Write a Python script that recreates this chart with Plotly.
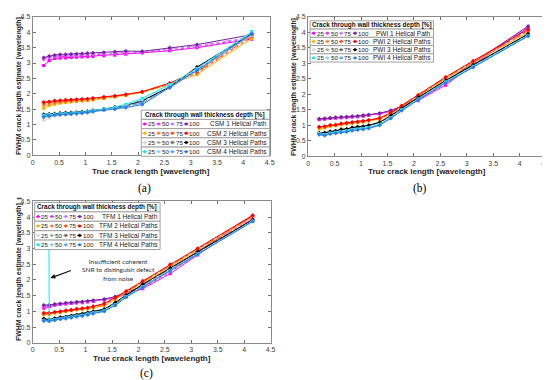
import plotly.graph_objects as go

W, H = 550, 380

# ---------------- data ----------------
crack_length = [0.208, 0.312, 0.416, 0.52, 0.624, 0.728, 0.832, 0.936, 1.04, 1.144,
                1.352, 1.56, 1.768, 2.08, 2.6, 3.12, 4.16]
depths = ["25", "50", "75", "100"]
x_tick_vals = [0, 0.5, 1, 1.5, 2, 2.5, 3, 3.5, 4, 4.5]
x_tick_text = ["0", "0.5", "1", "1.5", "2", "2.5", "3", "3.5", "4", "4.5"]
y_tick_vals = [0, 0.5, 1, 1.5, 2, 2.5, 3, 3.5, 4, 4.5]
y_tick_text = ["0", "0.5", "1", "1.5", "2", "2.5", "3", "3.5", "4", "4.5"]

# (a) CSM — rows: depth 25, 50, 75, 100
CSM1 = [
    [2.92, 3.08, 3.15, 3.16, 3.17, 3.18, 3.19, 3.2, 3.21, 3.22, 3.24, 3.26, 3.29, 3.33, 3.4, 3.5, 3.78],
    [3.12, 3.18, 3.2, 3.22, 3.22, 3.23, 3.24, 3.25, 3.26, 3.27, 3.28, 3.3, 3.32, 3.35, 3.43, 3.53, 3.82],
    [3.15, 3.2, 3.23, 3.25, 3.25, 3.26, 3.27, 3.28, 3.29, 3.3, 3.32, 3.34, 3.36, 3.37, 3.47, 3.56, 3.85],
    [3.18, 3.23, 3.26, 3.28, 3.28, 3.29, 3.3, 3.31, 3.32, 3.33, 3.35, 3.37, 3.39, 3.38, 3.5, 3.6, 3.92],
]
CSM2 = [
    [1.53, 1.62, 1.66, 1.7, 1.72, 1.74, 1.75, 1.77, 1.78, 1.8, 1.85, 1.9, 1.95, 2.05, 2.3, 2.63, 3.8],
    [1.63, 1.67, 1.7, 1.73, 1.75, 1.76, 1.77, 1.78, 1.8, 1.82, 1.86, 1.91, 1.96, 2.05, 2.32, 2.66, 3.85],
    [1.7, 1.72, 1.75, 1.76, 1.78, 1.79, 1.8, 1.81, 1.82, 1.84, 1.88, 1.92, 1.97, 2.06, 2.33, 2.7, 3.88],
    [1.73, 1.75, 1.78, 1.79, 1.8, 1.81, 1.82, 1.83, 1.84, 1.86, 1.9, 1.93, 1.98, 2.07, 2.35, 2.73, 3.92],
]
CSM3 = [
    [1.15, 1.22, 1.28, 1.3, 1.32, 1.34, 1.36, 1.38, 1.4, 1.43, 1.48, 1.54, 1.58, 1.72, 2.18, 2.75, 3.9],
    [1.24, 1.28, 1.32, 1.34, 1.35, 1.36, 1.37, 1.39, 1.41, 1.44, 1.49, 1.55, 1.59, 1.74, 2.2, 2.8, 3.92],
    [1.3, 1.32, 1.34, 1.35, 1.36, 1.37, 1.38, 1.4, 1.42, 1.45, 1.5, 1.56, 1.6, 1.76, 2.21, 2.83, 3.94],
    [1.33, 1.34, 1.36, 1.37, 1.38, 1.39, 1.4, 1.41, 1.43, 1.46, 1.5, 1.57, 1.62, 1.78, 2.22, 2.87, 3.95],
]
CSM4 = [
    [1.3, 1.32, 1.34, 1.35, 1.36, 1.37, 1.38, 1.4, 1.42, 1.45, 1.5, 1.56, 1.66, 1.85, 2.3, 2.82, 4.02],
    [1.28, 1.3, 1.33, 1.34, 1.35, 1.36, 1.37, 1.39, 1.41, 1.44, 1.49, 1.54, 1.63, 1.8, 2.27, 2.8, 4.0],
    [1.26, 1.29, 1.32, 1.33, 1.34, 1.35, 1.36, 1.38, 1.4, 1.43, 1.48, 1.52, 1.58, 1.7, 2.22, 2.78, 3.97],
    [1.25, 1.28, 1.31, 1.32, 1.33, 1.34, 1.35, 1.37, 1.39, 1.42, 1.47, 1.5, 1.55, 1.65, 2.2, 2.76, 3.95],
]

# (b) PWI
PWI1 = [
    [1.18, 1.2, 1.22, 1.23, 1.25, 1.25, 1.27, 1.28, 1.3, 1.32, 1.37, 1.45, 1.58, 1.8, 2.3, 2.95, 4.15],
    [1.19, 1.21, 1.23, 1.24, 1.25, 1.26, 1.27, 1.29, 1.31, 1.33, 1.38, 1.46, 1.6, 1.82, 2.35, 2.98, 4.17],
    [1.2, 1.22, 1.24, 1.25, 1.26, 1.27, 1.28, 1.3, 1.32, 1.34, 1.39, 1.47, 1.6, 1.84, 2.38, 3.0, 4.18],
    [1.21, 1.22, 1.24, 1.26, 1.27, 1.28, 1.29, 1.3, 1.32, 1.34, 1.39, 1.48, 1.61, 1.85, 2.4, 3.02, 4.2],
]
PWI2 = [
    [0.88, 0.92, 0.97, 0.99, 1.02, 1.04, 1.07, 1.09, 1.11, 1.14, 1.2, 1.36, 1.6, 1.93, 2.5, 3.02, 4.0],
    [0.92, 0.94, 0.99, 1.0, 1.03, 1.05, 1.08, 1.1, 1.12, 1.15, 1.21, 1.38, 1.61, 1.95, 2.52, 3.04, 4.03],
    [0.94, 0.96, 1.0, 1.01, 1.05, 1.07, 1.09, 1.11, 1.13, 1.16, 1.22, 1.39, 1.62, 1.97, 2.54, 3.06, 4.06],
    [0.95, 0.97, 1.01, 1.02, 1.06, 1.08, 1.1, 1.12, 1.14, 1.17, 1.24, 1.4, 1.64, 1.98, 2.56, 3.08, 4.1],
]
PWI3 = [
    [0.72, 0.74, 0.78, 0.8, 0.84, 0.86, 0.9, 0.92, 0.94, 0.97, 1.07, 1.28, 1.52, 1.87, 2.42, 2.92, 3.92],
    [0.73, 0.75, 0.79, 0.81, 0.85, 0.87, 0.91, 0.93, 0.95, 0.98, 1.08, 1.29, 1.53, 1.88, 2.43, 2.93, 3.93],
    [0.74, 0.76, 0.8, 0.82, 0.86, 0.88, 0.92, 0.94, 0.96, 0.99, 1.09, 1.3, 1.54, 1.89, 2.44, 2.94, 3.94],
    [0.75, 0.76, 0.8, 0.82, 0.87, 0.88, 0.93, 0.95, 0.96, 1.0, 1.1, 1.31, 1.55, 1.9, 2.45, 2.95, 3.95],
]
PWI4 = [
    [0.73, 0.7, 0.75, 0.77, 0.8, 0.82, 0.86, 0.88, 0.9, 0.93, 1.03, 1.25, 1.5, 1.85, 2.4, 2.9, 3.9],
    [0.72, 0.69, 0.74, 0.76, 0.79, 0.81, 0.85, 0.87, 0.89, 0.92, 1.02, 1.24, 1.49, 1.84, 2.39, 2.89, 3.89],
    [0.71, 0.68, 0.73, 0.75, 0.78, 0.8, 0.84, 0.86, 0.88, 0.91, 1.01, 1.23, 1.48, 1.83, 2.38, 2.88, 3.88],
    [0.7, 0.67, 0.72, 0.74, 0.77, 0.79, 0.83, 0.85, 0.87, 0.9, 1.0, 1.22, 1.47, 1.82, 2.37, 2.87, 3.88],
]

# (c) TFM
TFM1 = [
    [1.1, 1.15, 1.2, 1.22, 1.24, 1.25, 1.27, 1.28, 1.3, 1.32, 1.36, 1.42, 1.55, 1.72, 2.2, 2.8, 3.95],
    [1.15, 1.17, 1.21, 1.23, 1.25, 1.26, 1.28, 1.29, 1.31, 1.33, 1.37, 1.44, 1.57, 1.75, 2.25, 2.85, 4.0],
    [1.17, 1.19, 1.22, 1.24, 1.26, 1.27, 1.29, 1.3, 1.32, 1.34, 1.38, 1.46, 1.58, 1.78, 2.3, 2.88, 4.02],
    [1.2, 1.2, 1.23, 1.25, 1.27, 1.28, 1.3, 1.31, 1.33, 1.35, 1.39, 1.47, 1.6, 1.8, 2.32, 2.9, 4.05],
]
TFM2 = [
    [0.9, 0.9, 0.95, 0.97, 1.0, 1.02, 1.05, 1.07, 1.09, 1.12, 1.18, 1.38, 1.6, 1.9, 2.42, 2.95, 4.0],
    [0.92, 0.92, 0.96, 0.98, 1.01, 1.03, 1.06, 1.08, 1.1, 1.13, 1.2, 1.4, 1.62, 1.92, 2.45, 2.97, 4.02],
    [0.93, 0.94, 0.97, 0.99, 1.02, 1.04, 1.07, 1.09, 1.11, 1.15, 1.22, 1.42, 1.63, 1.95, 2.48, 2.99, 4.04],
    [0.95, 0.95, 0.98, 1.0, 1.03, 1.05, 1.08, 1.1, 1.12, 1.16, 1.25, 1.44, 1.65, 1.97, 2.5, 3.01, 4.06],
]
TFM3 = [
    [0.74, 0.71, 0.75, 0.78, 0.8, 0.83, 0.86, 0.88, 0.92, 0.96, 1.03, 1.22, 1.48, 1.8, 2.32, 2.85, 3.88],
    [0.75, 0.72, 0.76, 0.79, 0.81, 0.84, 0.87, 0.89, 0.93, 0.97, 1.04, 1.24, 1.49, 1.82, 2.34, 2.87, 3.9],
    [0.76, 0.73, 0.77, 0.8, 0.82, 0.85, 0.88, 0.9, 0.94, 0.98, 1.05, 1.26, 1.5, 1.84, 2.36, 2.89, 3.91],
    [0.77, 0.74, 0.78, 0.81, 0.83, 0.86, 0.89, 0.92, 0.96, 1.0, 1.07, 1.28, 1.52, 1.86, 2.38, 2.9, 3.92],
]
TFM4 = [
    [60.0, 0.72, 0.74, 0.77, 0.79, 0.82, 0.85, 0.87, 0.91, 0.95, 1.02, 1.21, 1.47, 1.79, 2.3, 2.83, 3.87],
    [0.72, 0.7, 0.74, 0.77, 0.79, 0.82, 0.85, 0.87, 0.91, 0.95, 1.02, 1.21, 1.47, 1.79, 2.31, 2.84, 3.88],
    [0.71, 0.7, 0.73, 0.76, 0.78, 0.81, 0.84, 0.86, 0.9, 0.94, 1.01, 1.2, 1.46, 1.78, 2.3, 2.83, 3.87],
    [0.7, 0.69, 0.72, 0.75, 0.77, 0.8, 0.83, 0.85, 0.89, 0.93, 1.0, 1.19, 1.45, 1.77, 2.29, 2.82, 3.86],
]

csm_labels = ["CSM 1 Helical Path", "CSM 2 Helical Paths", "CSM 3 Helical Paths", "CSM 4 Helical Paths"]
pwi_labels = ["PWI 1 Helical Path", "PWI 2 Helical Paths", "PWI 3 Helical Paths", "PWI 4 Helical Paths"]
tfm_labels = ["TFM 1 Helical Path", "TFM 2 Helical Paths", "TFM 3 Helical Paths", "TFM 4 Helical Paths"]
legend_title = "Crack through wall thickness depth [%]"
x_title = "True crack length [wavelength]"
y_title = "FWHM crack length estimate [wavelength]"
note_text = "Insufficient coherent<br>SNR to distinguish defect<br>from noise"

# ---------------- styles ----------------
group_colors = [
    ["#ff00ff", "#e633f0", "#c77dff", "#7a1fa2"],
    ["#ffb000", "#ff8030", "#ff4a10", "#ff0000"],
    ["#d4d4d4", "#a8a8a8", "#6e6e6e", "#000000"],
    ["#00f0f0", "#8ad2ff", "#4aa8ff", "#2a7fe0"],
]
symbols = ["square", "circle", "cross", "diamond"]
dashes = ["solid", "dot", "dashdot", "solid"]

panels = [
    dict(groups=[CSM1, CSM2, CSM3, CSM4], labels=csm_labels, xd=(23, 263), yd=(5, 146),
         leg=(133, 263, 100, 147), tag="(a)", tagpos=(136, 180), ytx=9),
    dict(groups=[PWI1, PWI2, PWI3, PWI4], labels=pwi_labels, xd=(302, 543), yd=(5, 147),
         leg=(304, 429, 9, 51), tag="(b)", tagpos=(415, 180), ytx=287),
    dict(groups=[TFM1, TFM2, TFM3, TFM4], labels=tfm_labels, xd=(23, 264), yd=(193, 337),
         leg=(25, 152, 194, 242), tag="(c)", tagpos=(138, 368), ytx=9),
]

def px(x):
    return x / W

def py(y):
    return 1 - y / H

fig = go.Figure()
shapes = []
annotations = []
sans = "Liberation Sans, Arial, sans-serif"

for i, p in enumerate(panels):
    sfx = "" if i == 0 else str(i + 1)
    xa, ya = "x" + sfx, "y" + sfx
    for g, group in enumerate(p["groups"]):
        for d, ys in enumerate(group):
            fig.add_trace(go.Scatter(
                x=crack_length, y=ys, mode="lines+markers", xaxis=xa, yaxis=ya,
                line=dict(color=group_colors[g][d], width=1, dash=dashes[d]),
                marker=dict(symbol=symbols[d], size=3.2, color=group_colors[g][d]),
                showlegend=False, hoverinfo="skip"))
    axis_common = dict(ticks="inside", ticklen=3, tickwidth=1, tickcolor="#707070",
                       showline=True, linecolor="#8a8a8a", linewidth=1, mirror="ticks",
                       showgrid=False, zeroline=False,
                       tickfont=dict(family=sans, size=7, color="#404040"))
    fig.update_layout(**{
        "xaxis" + sfx: dict(domain=[px(p["xd"][0]), px(p["xd"][1])], range=[0, 4.5],
                            tickvals=x_tick_vals, ticktext=x_tick_text, anchor=ya, **axis_common),
        "yaxis" + sfx: dict(domain=[py(p["yd"][1]), py(p["yd"][0])], range=[0, 4.5],
                            tickvals=y_tick_vals, ticktext=y_tick_text, anchor=xa, **axis_common),
    })
    xc = (p["xd"][0] + p["xd"][1]) / 2
    yc = (p["yd"][0] + p["yd"][1]) / 2
    annotations.append(dict(x=px(xc), y=py(p["yd"][1] + 16), xref="paper", yref="paper",
                            text="<b>" + x_title + "</b>", showarrow=False,
                            font=dict(family=sans, size=8, color="#262626"),
                            xanchor="center", yanchor="middle"))
    annotations.append(dict(x=px(p["ytx"]), y=py(yc), xref="paper", yref="paper",
                            text="<b>" + y_title + "</b>", showarrow=False, textangle=-90,
                            font=dict(family=sans, size=6.9, color="#262626"),
                            xanchor="center", yanchor="middle"))
    annotations.append(dict(x=px(p["tagpos"][0]), y=py(p["tagpos"][1]), xref="paper", yref="paper",
                            text=p["tag"], showarrow=False,
                            font=dict(family="Liberation Serif, Times New Roman, serif", size=11.5, color="#000"),
                            xanchor="center", yanchor="middle"))
    # legend (drawn manually)
    lx0, lx1, ly0, ly1 = p["leg"]
    rh = (ly1 - ly0) / 5.0
    for r in range(5):
        shapes.append(dict(type="rect", xref="paper", yref="paper",
                           x0=px(lx0), x1=px(lx1), y0=py(ly0 + (r + 1) * rh), y1=py(ly0 + r * rh),
                           line=dict(color="#a0a0a0", width=1), fillcolor="white", layer="above"))
    annotations.append(dict(x=px((lx0 + lx1) / 2), y=py(ly0 + rh / 2), xref="paper", yref="paper",
                            text="<b>" + legend_title + "</b>", showarrow=False,
                            font=dict(family=sans, size=6.4, color="#111"),
                            xanchor="center", yanchor="middle"))
    offsets = [3.5, 17.5, 31.5, 45.5]
    for g in range(4):
        cy = ly0 + (g + 1.5) * rh
        for d in range(4):
            mx = lx0 + offsets[d]
            col = group_colors[g][d]
            shapes.append(dict(type="line", xref="paper", yref="paper",
                               x0=px(mx - 2.2), x1=px(mx + 2.2), y0=py(cy), y1=py(cy),
                               line=dict(color=col, width=1), layer="above"))
            shapes.append(dict(type="circle", xref="paper", yref="paper",
                               x0=px(mx - 1.3), x1=px(mx + 1.3), y0=py(cy + 1.3), y1=py(cy - 1.3),
                               line=dict(color=col, width=0.5), fillcolor=col, layer="above"))
            annotations.append(dict(x=px(mx + 2.2), y=py(cy), xref="paper", yref="paper",
                                    text=depths[d], showarrow=False,
                                    font=dict(family=sans, size=6.2, color="#222"),
                                    xanchor="left", yanchor="middle", borderpad=0))
        annotations.append(dict(x=px(lx1 - 1.5), y=py(cy), xref="paper", yref="paper",
                                text=p["labels"][g], showarrow=False,
                                font=dict(family=sans, size=6.5, color="#222"),
                                xanchor="right", yanchor="middle", borderpad=0))

# note + arrow in (c)
annotations.append(dict(x=px(110), y=py(263), xref="paper", yref="paper", text=note_text,
                        showarrow=False, font=dict(family="Lato, Open Sans, sans-serif", size=6.5, color="#333"),
                        xanchor="center", yanchor="middle", align="center"))
annotations.append(dict(x=px(41), y=py(271), xref="paper", yref="paper", text="",
                        showarrow=True, arrowhead=2, arrowsize=0.8, arrowwidth=1.2, arrowcolor="#111",
                        ax=22, ay=-8))
# small stray mark at the left edge
shapes.append(dict(type="line", xref="paper", yref="paper", x0=px(7), x1=px(12), y0=py(190), y1=py(190),
                   line=dict(color="#444", width=1.5)))

fig.update_layout(width=W, height=H, margin=dict(l=0, r=0, t=0, b=0),
                  paper_bgcolor="white", plot_bgcolor="white",
                  shapes=shapes, annotations=annotations, showlegend=False)

fig.write_html("out.html")
